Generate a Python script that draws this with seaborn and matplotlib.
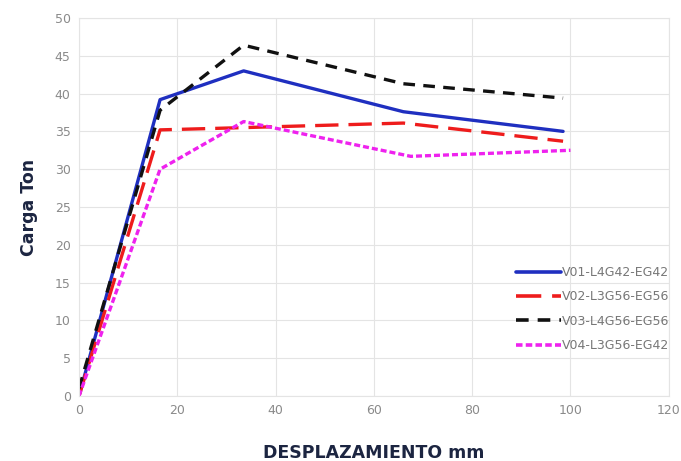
import matplotlib
matplotlib.use("Agg")
import matplotlib.pyplot as plt
import seaborn as sns
import pandas as pd

# displacement (mm) and load (Ton)
desp = [0, 16.5, 33.5, 66, 98.5]
v01 = [0, 39.2, 43.0, 37.6, 35.0]
v02 = [0, 35.2, 35.5, 36.1, 33.7]
v03 = [1, 37.8, 46.4, 41.3, 39.4]
v04 = [0, 30.0, 36.3, 31.7, 32.5]
v04_x = [0, 16.5, 33.5, 67.5, 100]

names = ["V01-L4G42-EG42", "V02-L3G56-EG56", "V03-L4G56-EG56", "V04-L3G56-EG42"]
colors = ["#1f2fc0", "#ee1c1c", "#111111", "#ee22ee"]
dashes = [(None, None), (7, 3), (3.5, 2.5), (1.8, 0.9)]

sns.set_style("whitegrid", {"grid.color": "#e4e4e4"})
plt.rcParams["font.family"] = ["DejaVu Sans"]

fig = plt.figure(figsize=(6.81, 4.61), dpi=100)
ax = fig.add_axes([0.116, 0.141, 0.866, 0.82])

series = [(desp, v01), (desp, v02), (desp, v03), (v04_x, v04)]
for (xs, ys), name, c, d in zip(series, names, colors, dashes):
    df = pd.DataFrame({"x": xs, "y": ys})
    sns.lineplot(data=df, x="x", y="y", ax=ax, color=c, lw=2.4, label=name)
    ln = ax.get_lines()[-1]
    if d[0] is not None:
        ln.set_dashes(d)

ax.set_xlim(0, 120)
ax.set_ylim(0, 50)
ax.set_xticks(range(0, 121, 20))
ax.set_yticks(range(0, 51, 5))
ax.tick_params(colors="#8a8a8a", labelsize=9, length=0, pad=6)
for s in ax.spines.values():
    s.set_color("#e4e4e4")

ax.set_xlabel("DESPLAZAMIENTO mm", fontsize=12.5, fontweight="bold", color="#1c2541", labelpad=19)
ax.set_ylabel("Carga Ton", fontsize=12.5, fontweight="bold", color="#1c2541", labelpad=12)

leg = ax.legend(loc="center right", bbox_to_anchor=(1.02, 0.23), frameon=False,
                fontsize=9, handlelength=3.6, handletextpad=0.1, labelspacing=0.9,
                labelcolor="#777777")
for h in leg.get_lines():
    h.set_linewidth(2.6)

fig.savefig("out.png", dpi=100)
